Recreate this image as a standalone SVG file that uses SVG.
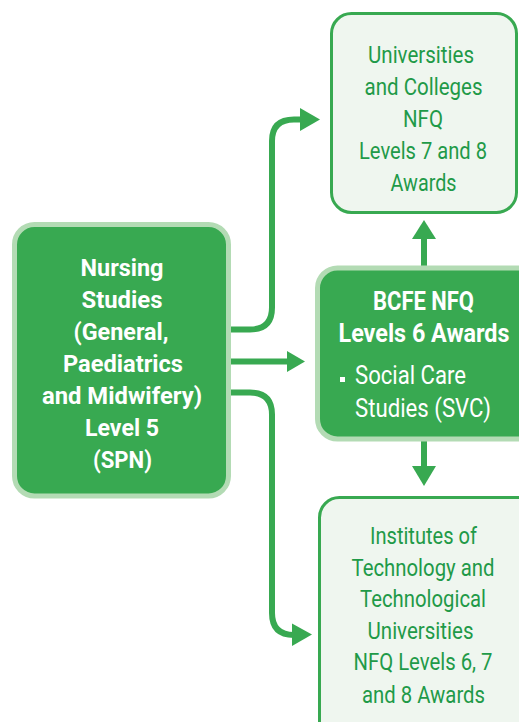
<svg xmlns="http://www.w3.org/2000/svg" width="519" height="722" viewBox="0 0 519 722">
<style>
.dark{fill:#38a951;stroke:#b3dbb4;stroke-width:5}
.light{fill:#eff6ef;stroke:#38a951;stroke-width:3}
.wb{font-family:Roboto,"Liberation Sans",sans-serif;font-weight:bold;fill:#ffffff;text-anchor:middle}
.wr{font-family:Roboto,"Liberation Sans",sans-serif;font-weight:normal;fill:#ffffff}
.g{font-family:Roboto,"Liberation Sans",sans-serif;font-weight:normal;fill:#1f9a48;text-anchor:middle}
.con{fill:none;stroke:#38a951;stroke-width:6}
.head{fill:#38a951}
</style>
<rect width="519" height="722" fill="#ffffff"/>
<g id="connectors">
<path class="con" d="M229,329.5 H250 Q272,329.5 272,307.5 V141 Q272,119.5 294,119.5 H302"/>
<polygon class="head" points="300,108 320,119.5 300,131"/>
<path class="con" d="M229,361.5 H289"/>
<polygon class="head" points="287,351 305,361.5 287,372"/>
<path class="con" d="M229,392.5 H250 Q272,392.5 272,414.5 V613 Q272,635 294,635 H294"/>
<polygon class="head" points="292,623.5 312,634.5 292,646"/>
<path class="con" d="M424,268 V237"/>
<polygon class="head" points="412,239 436,239 424,220"/>
<path class="con" d="M424,438 V468"/>
<polygon class="head" points="412,466 436,466 424,486"/>
</g>
<g id="node-nursing">
<rect class="dark" x="14.5" y="224.5" width="214" height="271.5" rx="20"/>
<text class="wb" font-size="24" x="122" y="276" textLength="83" lengthAdjust="spacingAndGlyphs">Nursing</text>
<text class="wb" font-size="24" x="122" y="308" textLength="81" lengthAdjust="spacingAndGlyphs">Studies</text>
<text class="wb" font-size="24" x="121" y="340" textLength="95" lengthAdjust="spacingAndGlyphs">(General,</text>
<text class="wb" font-size="24" x="123" y="372" textLength="120" lengthAdjust="spacingAndGlyphs">Paediatrics</text>
<text class="wb" font-size="24" x="122" y="404" textLength="160" lengthAdjust="spacingAndGlyphs">and Midwifery)</text>
<text class="wb" font-size="24" x="122" y="436" textLength="74" lengthAdjust="spacingAndGlyphs">Level 5</text>
<text class="wb" font-size="24" x="122.5" y="468" textLength="59" lengthAdjust="spacingAndGlyphs">(SPN)</text>
</g>
<g id="node-universities">
<rect class="light" x="331.5" y="13.5" width="185" height="199" rx="20"/>
<text class="g" font-size="23" x="421" y="63" textLength="106" lengthAdjust="spacingAndGlyphs">Universities</text>
<text class="g" font-size="23" x="423.5" y="95" textLength="118" lengthAdjust="spacingAndGlyphs">and Colleges</text>
<text class="g" font-size="23" x="423" y="127" textLength="40" lengthAdjust="spacingAndGlyphs">NFQ</text>
<text class="g" font-size="23" x="423" y="159" textLength="128" lengthAdjust="spacingAndGlyphs">Levels 7 and 8</text>
<text class="g" font-size="23" x="423.5" y="191" textLength="66" lengthAdjust="spacingAndGlyphs">Awards</text>
</g>
<g id="node-bcfe">
<rect class="dark" x="317.5" y="268" width="230" height="171" rx="20"/>
<text class="wb" font-size="25" x="423.5" y="310" textLength="101" lengthAdjust="spacingAndGlyphs">BCFE NFQ</text>
<text class="wb" font-size="25" transform="translate(424,342) scale(0.9,1)" x="0" y="0" textLength="190" lengthAdjust="spacingAndGlyphs">Levels 6 Awards</text>
<rect x="340" y="377" width="5" height="5" fill="#ffffff"/>
<text class="wr" font-size="25" x="355" y="384" textLength="111" lengthAdjust="spacingAndGlyphs">Social Care</text>
<text class="wr" font-size="25" x="355" y="417" textLength="136" lengthAdjust="spacingAndGlyphs">Studies (SVC)</text>
</g>
<g id="node-institutes">
<rect class="light" x="319.5" y="497.5" width="220" height="250" rx="20"/>
<text class="g" font-size="23" x="423.5" y="543.5" textLength="107" lengthAdjust="spacingAndGlyphs">Institutes of</text>
<text class="g" font-size="23" x="423" y="575.5" textLength="143" lengthAdjust="spacingAndGlyphs">Technology and</text>
<text class="g" font-size="23" x="423" y="607" textLength="126" lengthAdjust="spacingAndGlyphs">Technological</text>
<text class="g" font-size="23" x="420.5" y="638.5" textLength="106" lengthAdjust="spacingAndGlyphs">Universities</text>
<text class="g" font-size="23" x="423" y="670" textLength="139" lengthAdjust="spacingAndGlyphs">NFQ Levels 6, 7</text>
<text class="g" font-size="23" x="423.5" y="703" textLength="123" lengthAdjust="spacingAndGlyphs">and 8 Awards</text>
</g>
</svg>
